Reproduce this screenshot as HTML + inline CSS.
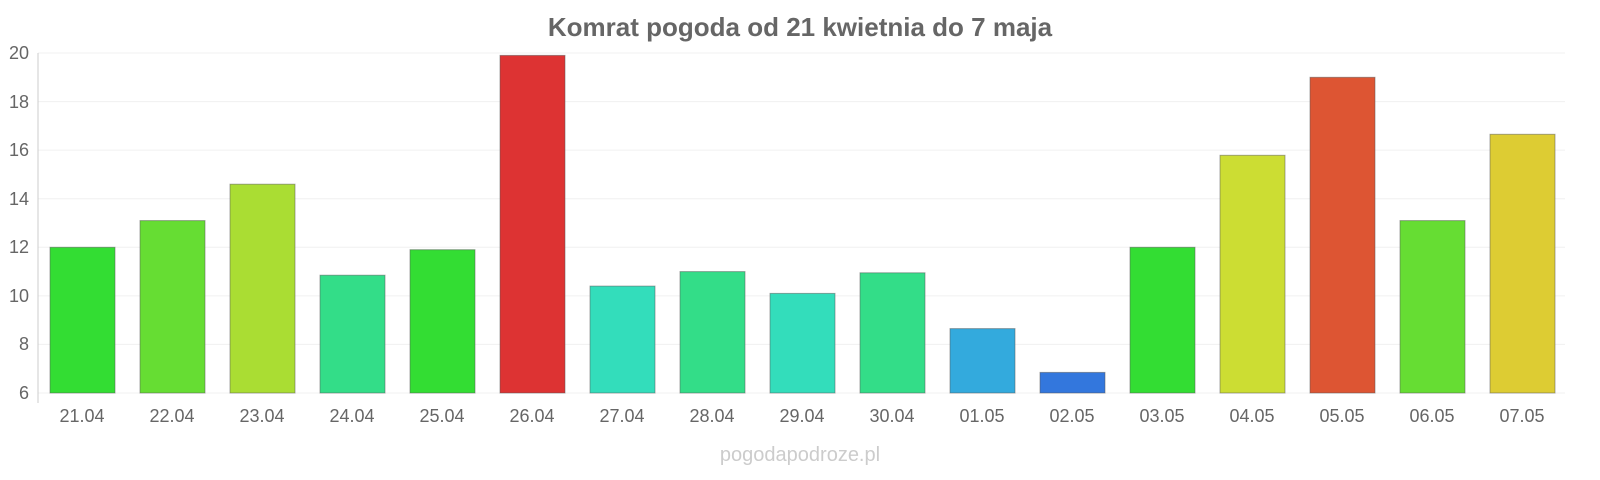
<!DOCTYPE html>
<html><head><meta charset="utf-8"><style>
body{margin:0;background:#fff;}
svg{display:block;font-family:"Liberation Sans",sans-serif;}
</style></head><body>
<svg width="1600" height="480" xmlns="http://www.w3.org/2000/svg">
<text x="800" y="36" text-anchor="middle" font-size="26" font-weight="bold" fill="#666">Komrat pogoda od 21 kwietnia do 7 maja</text>
<g stroke="#f0f0f0" stroke-width="1">
<line x1="38" x2="1565" y1="53" y2="53"/><line x1="38" x2="1565" y1="101.6" y2="101.6"/>
<line x1="38" x2="1565" y1="150.1" y2="150.1"/><line x1="38" x2="1565" y1="198.7" y2="198.7"/>
<line x1="38" x2="1565" y1="247.3" y2="247.3"/><line x1="38" x2="1565" y1="295.9" y2="295.9"/>
<line x1="38" x2="1565" y1="344.4" y2="344.4"/><line x1="38" x2="1565" y1="393" y2="393"/>
</g>
<line x1="38" x2="38" y1="53" y2="403" stroke="#ccc"/>
<g font-size="18" fill="#666" text-anchor="end">
<text x="29" y="59">20</text><text x="29" y="108">18</text><text x="29" y="156">16</text>
<text x="29" y="205">14</text><text x="29" y="253">12</text><text x="29" y="302">10</text>
<text x="29" y="350">8</text><text x="29" y="399">6</text>
</g>
<g stroke-width="1" stroke-opacity="0.5" stroke="#555">
<rect x="50" y="247.3" width="65" height="145.7" fill="#33dd33"/>
<rect x="140" y="220.6" width="65" height="172.4" fill="#66dd33"/>
<rect x="230" y="184.2" width="65" height="208.8" fill="#aadd33"/>
<rect x="320" y="275.2" width="65" height="117.8" fill="#33dd88"/>
<rect x="410" y="249.7" width="65" height="143.3" fill="#33dd33"/>
<rect x="500" y="55.4" width="65" height="337.6" fill="#dd3333"/>
<rect x="590" y="286.1" width="65" height="106.9" fill="#33ddbb"/>
<rect x="680" y="271.6" width="65" height="121.4" fill="#33dd88"/>
<rect x="770" y="293.4" width="65" height="99.6" fill="#33ddbb"/>
<rect x="860" y="272.8" width="65" height="120.2" fill="#33dd88"/>
<rect x="950" y="328.6" width="65" height="64.4" fill="#33aadd"/>
<rect x="1040" y="372.4" width="65" height="20.6" fill="#3377dd"/>
<rect x="1130" y="247.3" width="65" height="145.7" fill="#33dd33"/>
<rect x="1220" y="155.3" width="65" height="237.7" fill="#ccdd33"/>
<rect x="1310" y="77.3" width="65" height="315.7" fill="#dd5533"/>
<rect x="1400" y="220.6" width="65" height="172.4" fill="#66dd33"/>
<rect x="1490" y="134.3" width="65" height="258.7" fill="#ddcc33"/>
</g>
<g font-size="18" fill="#666" text-anchor="middle">
<text x="82" y="422">21.04</text><text x="172" y="422">22.04</text><text x="262" y="422">23.04</text>
<text x="352" y="422">24.04</text><text x="442" y="422">25.04</text><text x="532" y="422">26.04</text>
<text x="622" y="422">27.04</text><text x="712" y="422">28.04</text><text x="802" y="422">29.04</text>
<text x="892" y="422">30.04</text><text x="982" y="422">01.05</text><text x="1072" y="422">02.05</text>
<text x="1162" y="422">03.05</text><text x="1252" y="422">04.05</text><text x="1342" y="422">05.05</text>
<text x="1432" y="422">06.05</text><text x="1522" y="422">07.05</text>
</g>
<text x="800" y="461" text-anchor="middle" font-size="20" fill="#ccc">pogodapodroze.pl</text>
</svg>
</body></html>
